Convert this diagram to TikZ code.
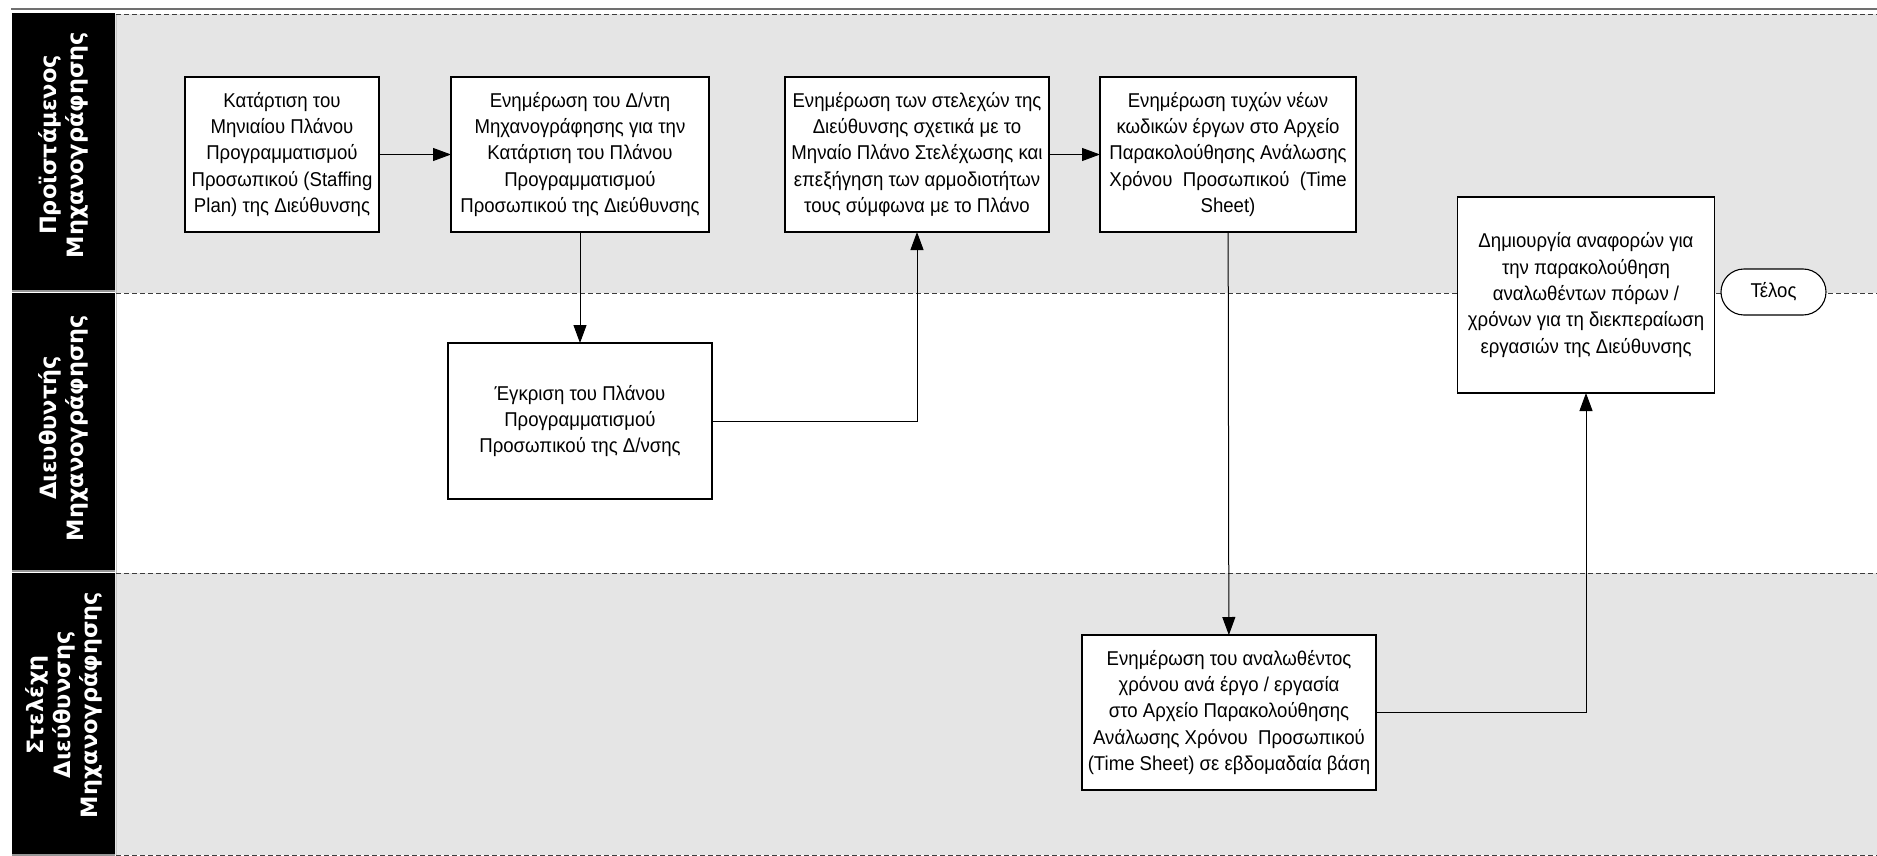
\documentclass[tikz,border=0pt]{standalone}
\usepackage{fontspec}
\setmainfont{Liberation Sans}[FakeStretch=0.93]
\newfontfamily\hdrfont{DejaVu Sans}
\usetikzlibrary{arrows.meta}
\definecolor{lanegray}{RGB}{229,229,229}
\definecolor{rulegray}{RGB}{112,112,112}
\definecolor{sepgray}{RGB}{150,150,150}
\definecolor{dashgray}{RGB}{60,60,60}
\tikzset{
  stepbox/.style={draw=black, line width=1.3pt, fill=white, inner sep=0pt, outer sep=0pt,
    align=center, font=\fontsize{20}{26.4}\selectfont},
  endbox/.style={draw=black, line width=1.1pt, fill=white, inner sep=0pt, outer sep=0pt,
    rounded corners=23pt, minimum width=105pt, minimum height=46pt,
    font=\fontsize{20}{24}\selectfont},
  lanehead/.style={text=white, rotate=90, align=center,
    font=\hdrfont\bfseries\fontsize{22.5}{27}\selectfont},
  flow/.style={draw=black, line width=1pt, -{Triangle[length=18pt,width=13pt]}},
  lanedash/.style={draw=dashgray, line width=0.9pt, dash pattern=on 5pt off 3pt},
}
\begin{document}
\begin{tikzpicture}[x=1pt, y=-1pt]
\useasboundingbox (0,0) rectangle (1877,856);

% swimlane backgrounds
\fill[lanegray] (115,14.5) rectangle (1877,293);
\fill[lanegray] (115,573) rectangle (1877,855);
\draw[rulegray, line width=1.6pt] (11,9) -- (1877,9);
\draw[black!22, line width=0.8pt] (116,14.5) -- (116,855);
\foreach \yy in {14.5,293,573,855}
  \draw[lanedash] (116,\yy) -- (1877,\yy);

% lane headers
\fill[black] (12,13) rectangle (115,289.5);
\fill[black] (12,292.5) rectangle (115,569.5);
\fill[black] (12,572.5) rectangle (115,853.5);
\foreach \yy in {291,571,855}
  \draw[sepgray, line width=1.8pt] (12,\yy) -- (115,\yy);
\node[lanehead] (h1) at (63.5,145) {Προϊστάμενος\\Μηχανογράφησης};
\node[lanehead] (h2) at (63.5,428) {Διευθυντής\\Μηχανογράφησης};
\node[lanehead] (h3) at (63.5,705) {Στελέχη\\Διεύθυνσης\\Μηχανογράφησης};

% process steps
\node[stepbox, minimum width=194pt, minimum height=155pt] (b1) at (282,154.5)
  {Κατάρτιση του\\Μηνιαίου Πλάνου\\Προγραμματισμού\\Προσωπικού (Staffing\\Plan) της Διεύθυνσης};
\node[stepbox, minimum width=258pt, minimum height=155pt] (b2) at (580,154.5)
  {Ενημέρωση του Δ/ντη\\Μηχανογράφησης για την\\Κατάρτιση του Πλάνου\\Προγραμματισμού\\Προσωπικού της Διεύθυνσης};
\node[stepbox, minimum width=264pt, minimum height=155pt] (b3) at (917,154.5)
  {Ενημέρωση των στελεχών της\\Διεύθυνσης σχετικά με το\\Μηναίο Πλάνο Στελέχωσης και\\επεξήγηση των αρμοδιοτήτων\\τους σύμφωνα με το Πλάνο};
\node[stepbox, minimum width=256pt, minimum height=155pt] (b4) at (1228,154.5)
  {Ενημέρωση τυχών νέων\\κωδικών έργων στο Αρχείο\\Παρακολούθησης Ανάλωσης\\Χρόνου\ \ Προσωπικού\ \ (Time\\Sheet)};
\node[stepbox, minimum width=257pt, minimum height=196pt] (b5) at (1586,295)
  {Δημιουργία αναφορών για\\την παρακολούθηση\\αναλωθέντων πόρων /\\χρόνων για τη διεκπεραίωση\\εργασιών της Διεύθυνσης};
\node[endbox] (end) at (1773.5,292) {Τέλος};
\node[stepbox, minimum width=264pt, minimum height=156pt] (b6) at (580,421)
  {Έγκριση του Πλάνου\\Προγραμματισμού\\Προσωπικού της Δ/νσης};
\node[stepbox, minimum width=294pt, minimum height=155pt] (b7) at (1229,712.5)
  {Ενημέρωση του αναλωθέντος\\χρόνου ανά έργο / εργασία\\στο Αρχείο Παρακολούθησης\\Ανάλωσης Χρόνου\ \ Προσωπικού\\(Time Sheet) σε εβδομαδαία βάση};

% flow
\draw[flow] (b1) -- (b2);
\draw[flow] (b2) -- (b6);
\draw[flow] (b6.east) -| (b3.south);
\draw[flow] (b3) -- (b4);
\draw[flow] (b4) -- (b7);
\draw[flow] (b7.east) -| (b5.south);
\end{tikzpicture}
\end{document}
